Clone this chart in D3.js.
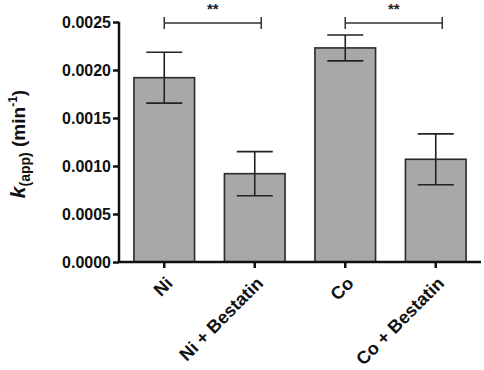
<!DOCTYPE html>
<html>
<head>
<meta charset="utf-8">
<script src="https://cdn.jsdelivr.net/npm/d3@7"></script>
<style>
  body { margin: 0; background: #fff; }
  text { font-family: Arial, "Liberation Sans", sans-serif; }
</style>
</head>
<body>
<div id="chart"></div>
<script>
// Values
var categories = ["Ni", "Ni + Bestatin", "Co", "Co + Bestatin"];
var means = [0.00192, 0.00092, 0.00223, 0.00107];
var errors = [0.000265, 0.00023, 0.000135, 0.000265];
var yTicks = [0, 0.0005, 0.0010, 0.0015, 0.0020, 0.0025];
// significance brackets: [from, to, label]
var brackets = [["Ni", "Ni + Bestatin", "**"], ["Co", "Co + Bestatin", "**"]];

var width = 484, height = 370;
var margin = { top: 22, right: 3, bottom: 108, left: 119 };

var svg = d3.select("#chart")
  .append("svg")
  .attr("width", width)
  .attr("height", height);

var g = svg.append("g")
  .attr("transform", "translate(" + margin.left + "," + margin.top + ")");

var w = width - margin.left - margin.right;
var h = height - margin.top - margin.bottom;

var x = d3.scaleBand()
  .domain(categories)
  .range([0, w])
  .paddingInner(0.33)
  .paddingOuter(0.165);

var y = d3.scaleLinear()
  .domain([0, 0.0025])
  .range([h, 0]);

// Bars
g.selectAll(".bar")
  .data(categories)
  .enter().append("rect")
  .attr("class", "bar")
  .attr("x", function(d) { return x(d); })
  .attr("y", function(d, i) { return y(means[i]); })
  .attr("width", x.bandwidth())
  .attr("height", function(d, i) { return h - y(means[i]); })
  .attr("fill", "#a8a8a8")
  .attr("stroke", "#2a2a2a")
  .attr("stroke-width", 1.6);

// Error bars
var capW = 18;
categories.forEach(function(c, i) {
  var cx = x(c) + x.bandwidth() / 2;
  var eg = g.append("g").attr("stroke", "#222").attr("stroke-width", 1.6);
  eg.append("line")
    .attr("x1", cx).attr("x2", cx)
    .attr("y1", y(means[i] + errors[i])).attr("y2", y(means[i] - errors[i]));
  [means[i] + errors[i], means[i] - errors[i]].forEach(function(v) {
    eg.append("line")
      .attr("x1", cx - capW).attr("x2", cx + capW)
      .attr("y1", y(v)).attr("y2", y(v));
  });
});

// Axes
var yAxis = g.append("g")
  .call(d3.axisLeft(y).tickValues(yTicks).tickFormat(d3.format(".4f")).tickSize(6).tickPadding(2));
var xAxis = g.append("g")
  .attr("transform", "translate(0," + h + ")")
  .call(d3.axisBottom(x).tickSize(6).tickFormat(""));

[yAxis, xAxis].forEach(function(a) {
  a.select(".domain").attr("stroke", "#111").attr("stroke-width", 2.5);
  a.selectAll(".tick line").attr("stroke", "#111").attr("stroke-width", 2.5);
});
xAxis.select(".domain").attr("d", "M0,0H" + w);
yAxis.select(".domain").attr("d", "M0,0V" + h);
yAxis.selectAll(".tick text")
  .attr("font-size", 16)
  .attr("font-weight", "bold")
  .attr("fill", "#111");

// Rotated category labels
g.selectAll(".xlabel")
  .data(categories)
  .enter().append("text")
  .attr("class", "xlabel")
  .attr("transform", function(d) {
    return "translate(" + (x(d) + x.bandwidth() / 2 + 5) + "," + (h + 18) + ") rotate(-45)";
  })
  .attr("text-anchor", "end")
  .attr("dy", "0.35em")
  .attr("font-size", 18)
  .attr("font-weight", "bold")
  .attr("fill", "#111")
  .text(function(d) { return d; });

// Significance brackets
var bw = 97;
brackets.forEach(function(b) {
  var x1 = x(b[0]) + x.bandwidth() / 2;
  var x2 = x1 + bw;
  var by = y(0.00249);
  var bg = g.append("g").attr("stroke", "#333").attr("stroke-width", 1.5);
  bg.append("line").attr("x1", x1).attr("x2", x2).attr("y1", by).attr("y2", by);
  bg.append("line").attr("x1", x1).attr("x2", x1).attr("y1", by - 6).attr("y2", by + 6);
  bg.append("line").attr("x1", x2).attr("x2", x2).attr("y1", by - 6).attr("y2", by + 6);
  g.append("text")
    .attr("x", (x1 + x2) / 2)
    .attr("y", by - 9)
    .attr("text-anchor", "middle")
    .attr("font-size", 15)
    .attr("font-weight", "bold")
    .attr("fill", "#222")
    .text(b[2]);
});

// Y-axis label
var yl = svg.append("text")
  .attr("transform", "translate(25," + (margin.top + h / 2 + 2) + ") rotate(-90)")
  .attr("text-anchor", "middle")
  .attr("font-size", 19)
  .attr("font-weight", "bold")
  .attr("fill", "#111");
yl.append("tspan").attr("font-style", "italic").attr("font-size", 21).text("k");
yl.append("tspan").attr("font-size", 14).attr("dy", 5).text("(app)");
yl.append("tspan").attr("dy", -5).text(" (min");
yl.append("tspan").attr("font-size", 12).attr("dy", -8).text("-1");
yl.append("tspan").attr("dy", 8).text(")");
</script>
</body>
</html>
